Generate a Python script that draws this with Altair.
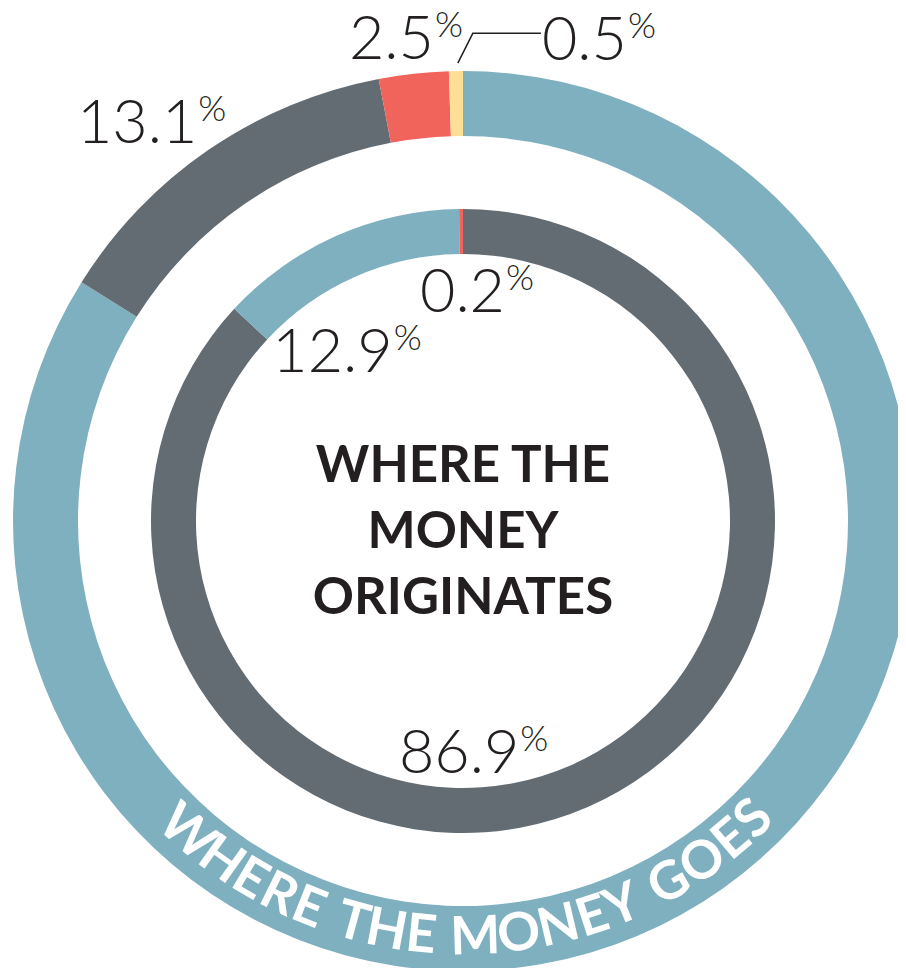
import math
import altair as alt
import pandas as pd

# ---------------- data ----------------
groups = ["Group A", "Group B", "Group C", "Group D"]
group_colors = ["#7FB0C0", "#636C73", "#F0645C", "#FFDE96"]

outer_groups = ["Group A", "Group B", "Group C", "Group D"]
outer_values = [83.9, 13.1, 2.5, 0.5]
outer_labelled = ["Group B", "Group C", "Group D"]

inner_groups = ["Group B", "Group A", "Group C"]
inner_values = [86.9, 12.9, 0.2]
inner_labelled = ["Group B", "Group A", "Group C"]

center_title = ["WHERE THE", "MONEY", "ORIGINATES"]
ring_title = "WHERE THE MONEY GOES"

# ---------------- layout ----------------
CX, CY = 455, 513
R_OUTER = (385, 450)
R_INNER = (267, 312)
TEXT = "#231F20"
FONT = "Lato"

# label anchor (junction of number and % sign): angle in percent of circle, radius px
LABEL_LAYOUT = {
    ("outer", "Group B"): (90.25, 462),
    ("outer", "Group C"): (99.0, 463),
    ("outer", "Group D"): (5.44, 489),
    ("inner", "Group B"): (46.5, 258),
    ("inner", "Group A"): (93.0, 165),
    ("inner", "Group C"): (3.16, 213),
}

THETA = alt.Scale(domain=[0, 100], range=[0, 2 * math.pi])
COLOR = alt.Scale(domain=groups, range=group_colors)

df_outer = pd.DataFrame({"group": outer_groups, "value": outer_values,
                         "seq": list(range(len(outer_groups)))})
df_inner = pd.DataFrame({"group": inner_groups, "value": inner_values,
                         "seq": list(range(len(inner_groups)))})

rows = []
for ring, gs, vs, lab in (("outer", outer_groups, outer_values, outer_labelled),
                          ("inner", inner_groups, inner_values, inner_labelled)):
    for g, v in zip(gs, vs):
        if g in lab:
            pos, r = LABEL_LAYOUT[(ring, g)]
            rows.append({"label": f"{v:.1f}", "pos": pos, "r": r, "pct": "%"})
df_labels = pd.DataFrame(rows)

# curved title letters along the bottom of the outer ring
widths = {"W": 0.97, "H": 0.74, "E": 0.60, "R": 0.66, "T": 0.60, "M": 0.90,
          "O": 0.80, "N": 0.76, "Y": 0.64, "G": 0.76, "S": 0.56, " ": 0.30}
start_deg, end_deg = 225.0, 133.7
total = sum(widths[c] for c in ring_title)
cum = 0.0
letters = []
for ch in ring_title:
    w = widths[ch]
    f = (cum + w / 2) / total
    cum += w
    deg = start_deg - f * (start_deg - end_deg)
    if ch != " ":
        letters.append({"ch": ch, "pos": deg / 360 * 100, "rot": (deg - 180) % 360})
df_letters = pd.DataFrame(letters)

# leader line for the small yellow slice
d_start, d_end = sum(outer_values[:3]), sum(outer_values)
mid = (d_start + d_end) / 2 / 100 * 2 * math.pi
sx = CX + (R_OUTER[1] + 8) * math.sin(mid)
sy = CY - (R_OUTER[1] + 8) * math.cos(mid)
lpos, lr = LABEL_LAYOUT[("outer", "Group D")]
la = lpos / 100 * 2 * math.pi
label_y = CY - lr * math.cos(la)
label_left = CX + lr * math.sin(la) - 86
df_leader = pd.DataFrame({
    "x": [sx + 2, sx + 17, label_left],
    "y": [sy, label_y - 27, label_y - 27],
    "i": [0, 1, 2],
})

# ---------------- chart ----------------
def ring(df, radii):
    return alt.Chart(df).mark_arc(innerRadius=radii[0], outerRadius=radii[1]).encode(
        theta=alt.Theta("value:Q", stack=True, scale=THETA),
        color=alt.Color("group:N", scale=COLOR, legend=None),
        order=alt.Order("seq:Q"),
        x=alt.value(CX), y=alt.value(CY),
    )

outer = ring(df_outer, R_OUTER)
inner = ring(df_inner, R_INNER)

nums = alt.Chart(df_labels).mark_text(
    align="right", baseline="alphabetic", font=FONT, fontWeight=300,
    fontSize=61, color=TEXT,
).encode(
    theta=alt.Theta("pos:Q", scale=THETA),
    radius=alt.Radius("r:Q", scale=None),
    text="label:N",
    x=alt.value(CX), y=alt.value(CY),
)

pcts = alt.Chart(df_labels).mark_text(
    align="left", baseline="alphabetic", font=FONT, fontWeight=300,
    fontSize=36, color=TEXT, dx=1, dy=-22,
).encode(
    theta=alt.Theta("pos:Q", scale=THETA),
    radius=alt.Radius("r:Q", scale=None),
    text="pct:N",
    x=alt.value(CX), y=alt.value(CY),
)

curved = alt.Chart(df_letters).mark_text(
    align="center", baseline="middle", font=FONT, fontWeight=700,
    fontSize=53, color="white",
).encode(
    theta=alt.Theta("pos:Q", scale=THETA),
    radius=alt.value(417),
    angle=alt.Angle("rot:Q", scale=None),
    text="ch:N",
    x=alt.value(CX), y=alt.value(CY),
)

leader = alt.Chart(df_leader).mark_line(color=TEXT, strokeWidth=1.5).encode(
    x=alt.X("x:Q", scale=None),
    y=alt.Y("y:Q", scale=None),
    order="i:Q",
)

center = alt.Chart(pd.DataFrame({"t": [0]})).mark_text(
    align="center", baseline="alphabetic", font=FONT, fontWeight=700,
    fontSize=51, lineHeight=66, color=TEXT,
).encode(
    text=alt.value(center_title),
    x=alt.value(CX), y=alt.value(474),
)

chart = alt.layer(outer, inner, nums, pcts, curved, leader, center).properties(
    width=890, height=960, padding=0, autosize="none",
).configure_view(stroke=None)

chart.save("out.html", embed_options={"renderer": "svg", "actions": False})
